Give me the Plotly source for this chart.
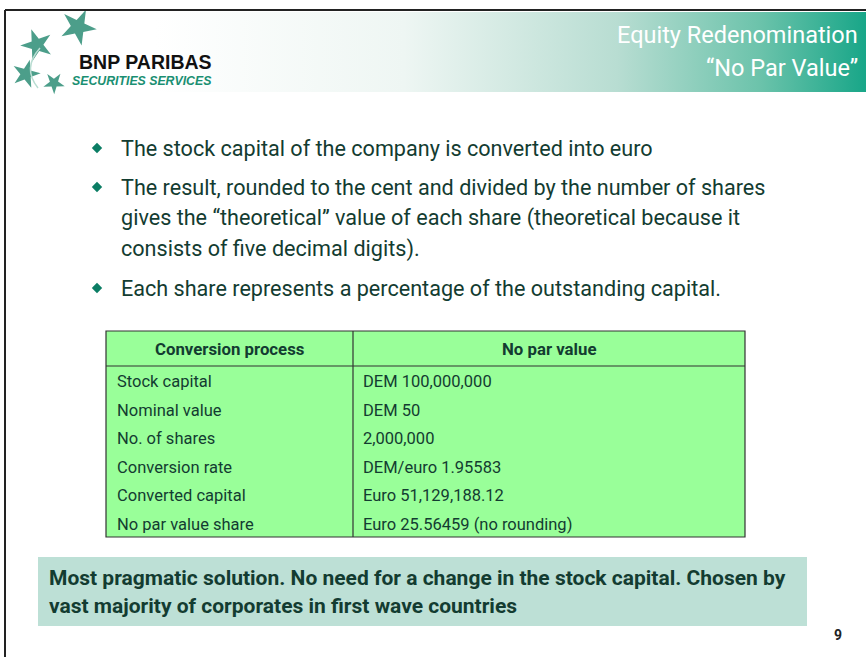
import plotly.graph_objects as go

W, H = 866, 657
FONT = "Roboto, Liberation Sans, sans-serif"
TXT = "#133c31"

title_lines = ["Equity Redenomination", "\u201cNo Par Value\u201d"]
bullets = [
    ["The stock capital of the company is converted into euro"],
    ["The result, rounded to the cent and divided by the number of shares",
     "gives the \u201ctheoretical\u201d value of each share (theoretical because it",
     "consists of five decimal digits)."],
    ["Each share represents a percentage of the outstanding capital."],
]
table_header = ["Conversion process", "No par value"]
col_process = ["Stock capital", "Nominal value", "No. of shares", "Conversion rate",
               "Converted capital", "No par value share"]
col_nopar = ["DEM 100,000,000", "DEM 50", "2,000,000", "DEM/euro 1.95583",
             "Euro 51,129,188.12", "Euro 25.56459 (no rounding)"]
note_lines = ["Most pragmatic solution. No need for a change in the stock capital. Chosen by",
              "vast majority of corporates in first wave countries"]
page_number = "9"

fig = go.Figure()
shapes = []
ann = []

# slide border
shapes.append(dict(type="line", x0=5, x1=W, y0=10, y1=10, line=dict(color="#222", width=2)))
shapes.append(dict(type="line", x0=5, x1=5, y0=10, y1=H, line=dict(color="#222", width=2)))

# header gradient band
fig.add_trace(go.Scatter(
    x=[155, W, W, 155, 155], y=[12, 12, 92, 92, 12], mode="lines", fill="toself",
    line=dict(width=0), hoverinfo="skip", showlegend=False,
    fillgradient=dict(type="horizontal", start=155, stop=W,
                      colorscale=[[0, "#ffffff"], [0.35, "#eef6f3"], [0.65, "#b8ddd2"],
                                  [0.85, "#6cc3ab"], [1, "#18a688"]])))

for i, t in enumerate(title_lines):
    ann.append(dict(x=860, y=35 + 33 * i, text=t, xanchor="right", yanchor="middle",
                    showarrow=False, font=dict(family=FONT, size=23.5, color="white")))

# logo
shapes.append(dict(type="path", path="M 40,48 Q 22,68 38,88", line=dict(color="#b9ddd2", width=1.5)))
star_x = [78, 37, 26, 54]
star_y = [27, 45, 74, 83]
star_s = [27, 24, 21, 16]
star_a = [25, -20, 15, 35]
fig.add_trace(go.Scatter(x=star_x, y=star_y, mode="markers", hoverinfo="skip", showlegend=False,
                         marker=dict(symbol="star", size=star_s, angle=star_a, color="#007559",
                                     line=dict(width=0))))
ann.append(dict(x=214, y=62, text="<b>BNP PARIBAS</b>", xanchor="right", yanchor="middle",
                showarrow=False, font=dict(family="Liberation Sans, Arial", size=19.5, color="#111")))
ann.append(dict(x=214, y=81, text="<b><i>SECURITIES SERVICES</i></b>", xanchor="right", yanchor="middle",
                showarrow=False, font=dict(family="Liberation Sans, Arial", size=12.3, color="#1a8f72")))

# bullets
line_y = 148
bx, by = [], []
for b in bullets:
    bx.append(97); by.append(line_y)
    for j, ln in enumerate(b):
        ann.append(dict(x=119, y=line_y, text=ln, xanchor="left", yanchor="middle", showarrow=False,
                        font=dict(family=FONT, size=21.6, color=TXT)))
        line_y += 31
    line_y += 8
fig.add_trace(go.Scatter(x=bx, y=by, mode="markers", hoverinfo="skip", showlegend=False,
                         marker=dict(symbol="diamond", size=8, color="#0b7d64")))

# table
tx0, tx1, tdiv = 106, 745, 353
ty0, thead, ty1 = 331, 366, 537
shapes.append(dict(type="rect", x0=tx0, x1=tx1, y0=ty0, y1=ty1, fillcolor="#99ff99",
                   line=dict(color="#333", width=1.2), layer="below"))
shapes.append(dict(type="line", x0=tx0, x1=tx1, y0=thead, y1=thead, line=dict(color="#333", width=1.2)))
shapes.append(dict(type="line", x0=tdiv, x1=tdiv, y0=ty0, y1=ty1, line=dict(color="#333", width=1.2)))
ann.append(dict(x=(tx0 + tdiv) / 2, y=(ty0 + thead) / 2, text="<b>" + table_header[0] + "</b>",
                showarrow=False, font=dict(family=FONT, size=16.8, color=TXT)))
ann.append(dict(x=(tdiv + tx1) / 2, y=(ty0 + thead) / 2, text="<b>" + table_header[1] + "</b>",
                showarrow=False, font=dict(family=FONT, size=16.8, color=TXT)))
rh = (ty1 - thead) / len(col_process)
for i, (a, b) in enumerate(zip(col_process, col_nopar)):
    yc = thead + rh * i + rh / 2 + 1.5
    ann.append(dict(x=tx0 + 9, y=yc, text=a, xanchor="left", yanchor="middle", showarrow=False,
                    font=dict(family=FONT, size=16.5, color=TXT)))
    ann.append(dict(x=tdiv + 8, y=yc, text=b, xanchor="left", yanchor="middle", showarrow=False,
                    font=dict(family=FONT, size=16.5, color=TXT)))

# note box
shapes.append(dict(type="rect", x0=38, x1=807, y0=557, y1=626, fillcolor="#bde0d6",
                   line=dict(width=0), layer="below"))
for i, t in enumerate(note_lines):
    ann.append(dict(x=47, y=578 + 28 * i, text="<b>" + t + "</b>", xanchor="left", yanchor="middle",
                    showarrow=False, font=dict(family=FONT, size=21, color=TXT)))

ann.append(dict(x=838, y=635, text="<b>" + page_number + "</b>", xanchor="center", yanchor="middle",
                showarrow=False, font=dict(family=FONT, size=14, color="#222")))

fig.update_layout(
    width=W, height=H, margin=dict(l=0, r=0, t=0, b=0),
    paper_bgcolor="white", plot_bgcolor="white",
    xaxis=dict(range=[0, W], visible=False, fixedrange=True),
    yaxis=dict(range=[H, 0], visible=False, fixedrange=True),
    shapes=shapes, annotations=ann, showlegend=False,
)
fig.write_html("out.html", config={"displayModeBar": False},
               post_script="document.body.style.margin='0';document.body.style.overflow='hidden';")
